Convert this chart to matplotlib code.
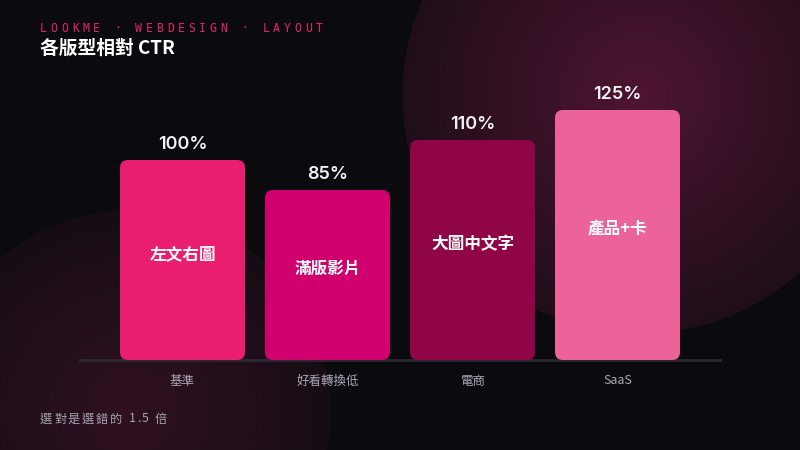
import numpy as np
import matplotlib
matplotlib.use("Agg")
import matplotlib.pyplot as plt
from matplotlib.patches import FancyBboxPatch

# data
categories = ["基準", "好看轉換低", "電商", "SaaS"]
inner_labels = ["左文右圖", "滿版影片", "大圖中文字", "產品+卡"]
ctr = [100, 85, 110, 125]
bar_colors = ["#E91E6F", "#D1006F", "#8F0545", "#EC6399"]

kicker = "LOOKME · WEBDESIGN · LAYOUT"
title = "各版型相對 CTR"
note = "選對是選錯的 1.5 倍"

W, H = 800, 450
BG = "#0b0b0f"
cjk = ["Noto Sans CJK TC", "DejaVu Sans"]

fig = plt.figure(figsize=(W / 100, H / 100), dpi=100)
fig.patch.set_facecolor(BG)

# background glows
bg_ax = fig.add_axes([0, 0, 1, 1], zorder=-10)
yy, xx = np.mgrid[0:H, 0:W]
img = np.zeros((H, W, 3))
img[:] = matplotlib.colors.to_rgb(BG)
glow = np.array(matplotlib.colors.to_rgb("#901f52"))
for cx, cy, R, a0 in [(640, 95, 238, 0.5), (130, 410, 200, 0.28)]:
    r = np.hypot(xx - cx, yy - cy) / R
    a = np.where(r < 1, a0 * (1 - 0.7 * r), 0)[..., None]
    img = img * (1 - a) + glow * a
bg_ax.imshow(img, extent=[0, W, H, 0], aspect="auto")
bg_ax.set_xlim(0, W)
bg_ax.set_ylim(H, 0)
bg_ax.axis("off")

# chart axes: x 80..720 px, baseline at y=360 px, 2 px per %
ax = fig.add_axes([80 / W, 90 / H, 640 / W, 270 / H])
ax.set_facecolor("none")
x = np.arange(len(ctr))
bw = 125 / 145
ax.set_xlim(-102.5 / 145, len(ctr) - 1 + 102.5 / 145)
ax.set_ylim(0, 135)
for s in ax.spines.values():
    s.set_visible(False)
ax.set_xticks([])
ax.set_yticks([])

ax.axhline(0, color="#2b2a33", lw=2, zorder=1, clip_on=False)

rad_x = 8 / 145
aspect = (8 / 2) / rad_x
for xi, v, c, lab, cat in zip(x, ctr, bar_colors, inner_labels, categories):
    p = FancyBboxPatch((xi - bw / 2, 0), bw, v,
                       boxstyle=f"round,pad=0,rounding_size={rad_x}",
                       mutation_aspect=aspect, fc=c, ec="none", zorder=2)
    ax.add_patch(p)
    ax.annotate(f"{v}%", (xi, v), xytext=(0, 8), textcoords="offset points",
                ha="center", va="baseline", color="#f2f2f5", fontsize=13,
                fontweight="semibold", family=["Inter", "DejaVu Sans"])
    ax.text(xi, v / 2 + 3, lab, ha="center", va="center", color="white",
            fontsize=12, fontweight="bold", family=cjk, zorder=3)
    ax.text(xi, -10.5, cat, ha="center", va="center",
            color="#a9a8b3", fontsize=9, family=cjk)

renderer = fig.canvas.get_renderer()


def spaced(s, x0, y0, spacing, **kw):
    # draw text char by char with extra letter spacing (pixel coords)
    px = x0
    for ch in s:
        t = fig.text(px / W, 1 - y0 / H, ch, ha="left", va="center", **kw)
        w = t.get_window_extent(renderer).width
        if ch == " ":
            w = kw.get("fontsize", 10) * 0.3
        px += w + spacing


# kicker, fixed pitch monospace
for i, ch in enumerate(kicker):
    fig.text((40 + i * 10.6) / W, 1 - 28 / H, ch, ha="left", va="center",
             color="#E8206A", fontsize=8.3, family="DejaVu Sans Mono")

fig.text(40 / W, 1 - 48 / H, title, ha="left", va="center", color="white",
         fontsize=13.5, fontweight="bold", family=cjk)

spaced(note, 40, 419, 1.75, color="#a6a5b0", fontsize=8.8, family=cjk)

fig.savefig("out.png", dpi=100, facecolor=BG)
